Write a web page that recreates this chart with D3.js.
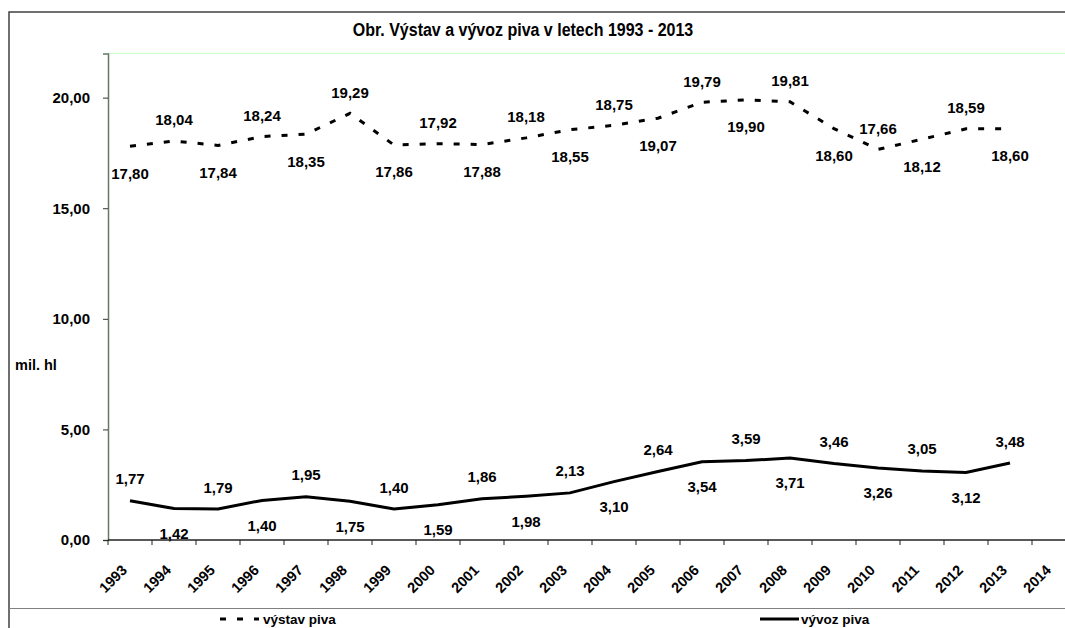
<!DOCTYPE html>
<html lang="cs">
<head>
    <meta charset="UTF-8">
    <title>Obr. Výstav a vývoz piva v letech 1993 - 2013</title>
    <script src="https://d3js.org/d3.v7.min.js"></script>
    <style>
        body { margin: 0; background: #fff; }
        text { font-family: "Liberation Sans", Arial, sans-serif; font-weight: bold; fill: #000; }
    </style>
</head>
<body>
    <div id="chart"></div>

    <script>
        // categories (2014 is an empty category on the axis)
        const years = ["1993", "1994", "1995", "1996", "1997", "1998", "1999", "2000", "2001", "2002", "2003",
                       "2004", "2005", "2006", "2007", "2008", "2009", "2010", "2011", "2012", "2013", "2014"];

        // mil. hl
        const vystav = [17.80, 18.04, 17.84, 18.24, 18.35, 19.29, 17.86, 17.92, 17.88, 18.18, 18.55,
                        18.75, 19.07, 19.79, 19.90, 19.81, 18.60, 17.66, 18.12, 18.59, 18.60];
        const vyvoz = [1.77, 1.42, 1.40, 1.79, 1.95, 1.75, 1.40, 1.59, 1.86, 1.98, 2.13,
                       2.64, 3.10, 3.54, 3.59, 3.71, 3.46, 3.26, 3.12, 3.05, 3.48];
        // data labels of the export series as they stand in the original (some pairs are swapped)
        const vyvozLabels = ["1,77", "1,42", "1,79", "1,40", "1,95", "1,75", "1,40", "1,59", "1,86", "1,98", "2,13",
                             "3,10", "2,64", "3,54", "3,59", "3,71", "3,46", "3,26", "3,05", "3,12", "3,48"];

        const yTicks = [0, 5, 10, 15, 20];

        const W = 1065, H = 628;
        const cz = d3.formatLocale({ decimal: ",", thousands: " ", grouping: [3], currency: ["", " Kč"] });
        const fmt = cz.format(".2f");

        const svg = d3.select("#chart").append("svg")
            .attr("width", W)
            .attr("height", H);

        // chart frame
        svg.append("path")
            .attr("d", `M9,${H} V12 H${W}`)
            .attr("fill", "none")
            .attr("stroke", "#404040")
            .attr("stroke-width", 1.5);
        svg.append("line")
            .attr("x1", 9).attr("x2", W)
            .attr("y1", 608.5).attr("y2", 608.5)
            .attr("stroke", "#808080")
            .attr("stroke-width", 1.2);

        // title
        svg.append("text")
            .attr("x", 523).attr("y", 36)
            .attr("text-anchor", "middle")
            .attr("transform", "translate(0,-6) scale(1,1.17)")
            .style("font-size", "16px")
            .text("Obr. Výstav a vývoz piva v letech 1993 - 2013");

        // scales
        const x = d3.scaleBand().domain(years).range([108, 108 + years.length * 44]);
        const y = d3.scaleLinear().domain([0, 22]).range([540, 53.4]);
        const cx = (d, i) => x(years[i]) + x.bandwidth() / 2;

        // plot area top edge
        svg.append("line")
            .attr("x1", 108).attr("x2", W)
            .attr("y1", y(22)).attr("y2", y(22))
            .attr("stroke", "#ccffcc")
            .attr("stroke-width", 1.2);

        // y axis
        const yAxis = svg.append("g")
            .attr("transform", "translate(108,0)")
            .call(d3.axisLeft(y).tickValues(yTicks).tickFormat(fmt).tickSize(5).tickPadding(13));
        yAxis.select(".domain").attr("stroke", "#667766").attr("stroke-width", 1.5);
        yAxis.selectAll(".tick line").attr("stroke", "#333");
        yAxis.selectAll(".tick text").style("font-size", "15px").style("font-family", null);

        svg.append("text")
            .attr("x", 15).attr("y", 370)
            .style("font-size", "14.5px")
            .text("mil. hl");

        // x axis: ticks between categories
        const xAxis = svg.append("g").attr("transform", `translate(0,${y(0)})`);
        xAxis.append("line")
            .attr("x1", 108).attr("x2", W)
            .attr("stroke", "#222")
            .attr("stroke-width", 1.5);
        xAxis.selectAll("line.tk")
            .data(years)
            .join("line")
            .attr("class", "tk")
            .attr("x1", d => x(d)).attr("x2", d => x(d))
            .attr("y1", 0).attr("y2", 5)
            .attr("stroke", "#222");
        xAxis.selectAll("text")
            .data(years)
            .join("text")
            .attr("text-anchor", "end")
            .attr("transform", d => `translate(${x(d) + x.bandwidth() / 2 - 2},${31}) rotate(-45)`)
            .style("font-size", "14.5px")
            .text(d => d);

        // lines
        const line = d3.line().x(cx).y(d => y(d));

        svg.append("path")
            .datum(vystav)
            .attr("d", line)
            .attr("fill", "none")
            .attr("stroke", "#000")
            .attr("stroke-width", 3)
            .attr("stroke-dasharray", "6,11");

        svg.append("path")
            .datum(vyvoz)
            .attr("d", line)
            .attr("fill", "none")
            .attr("stroke", "#000")
            .attr("stroke-width", 3);

        // data labels, alternating below / above the point
        svg.append("g").selectAll("text")
            .data(vystav)
            .join("text")
            .attr("x", cx)
            .attr("y", (d, i) => y(d) + (i % 2 === 0 ? 27 : -21) + 5.5)
            .attr("text-anchor", "middle")
            .style("font-size", "15px")
            .text(d => fmt(d));

        svg.append("g").selectAll("text")
            .data(vyvoz)
            .join("text")
            .attr("x", cx)
            .attr("y", (d, i) => y(d) + (i % 2 === 0 ? -22 : 25) + 5.5)
            .attr("text-anchor", "middle")
            .style("font-size", "15px")
            .text((d, i) => vyvozLabels[i]);

        // legend, just under the separator line
        const legend = svg.append("g");
        legend.append("line")
            .attr("x1", 220).attr("x2", 259).attr("y1", 619).attr("y2", 619)
            .attr("stroke", "#000").attr("stroke-width", 3).attr("stroke-dasharray", "6,11");
        legend.append("text")
            .attr("x", 263).attr("y", 623.5)
            .style("font-size", "13.5px")
            .text("výstav piva");
        legend.append("line")
            .attr("x1", 760).attr("x2", 799).attr("y1", 619).attr("y2", 619)
            .attr("stroke", "#000").attr("stroke-width", 3);
        legend.append("text")
            .attr("x", 801).attr("y", 623.5)
            .style("font-size", "13.5px")
            .text("vývoz piva");
    </script>
</body>
</html>
